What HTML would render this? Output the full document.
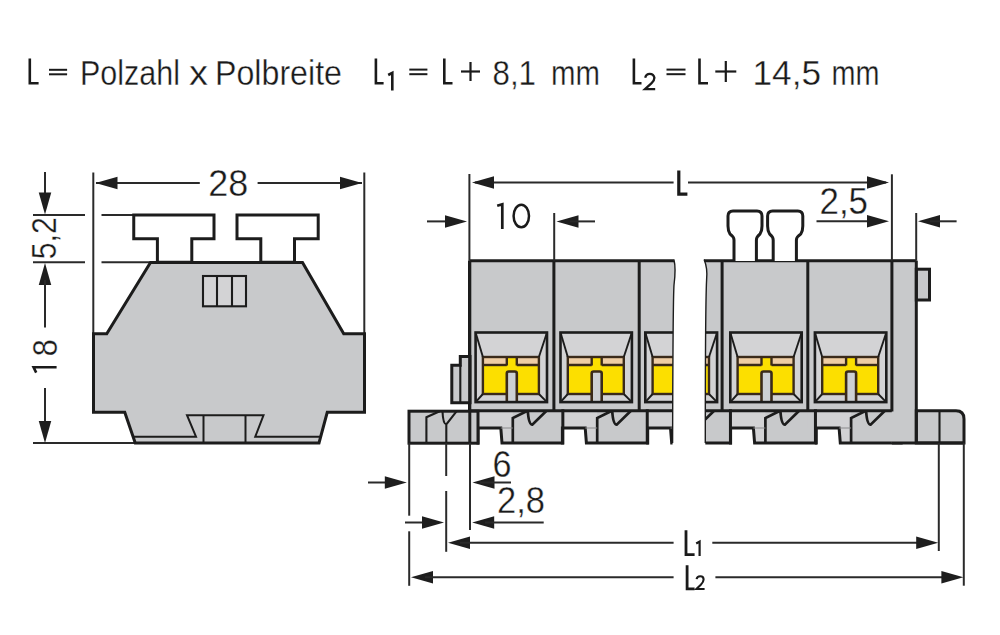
<!DOCTYPE html>
<html><head><meta charset="utf-8"><style>
html,body{margin:0;padding:0;background:#fff;}
svg{display:block;}
text{font-family:"Liberation Sans",sans-serif;}
</style></head><body>
<svg width="1000" height="635" viewBox="0 0 1000 635">
<rect width="1000" height="635" fill="#fff"/>

<path d="M29.8,58.5 V83.2 H38.6" fill="none" stroke="#1a1a1a" stroke-width="2.6"/>
<line x1="49" y1="69.8" x2="67.1" y2="69.8" stroke="#1a1a1a" stroke-width="2.0"/><line x1="49" y1="74.3" x2="67.1" y2="74.3" stroke="#1a1a1a" stroke-width="2.0"/>
<text x="80" y="85" font-size="35" fill="#1a1a1a" textLength="100" lengthAdjust="spacingAndGlyphs" stroke="#fff" stroke-width="0.35">Polzahl</text>
<text x="189" y="85" font-size="35" fill="#1a1a1a" textLength="19" lengthAdjust="spacingAndGlyphs" stroke="#fff" stroke-width="0.35">x</text>
<text x="215" y="85" font-size="35" fill="#1a1a1a" textLength="127" lengthAdjust="spacingAndGlyphs" stroke="#fff" stroke-width="0.35">Polbreite</text>
<path d="M375.9,58.5 V83.2 H383.6" fill="none" stroke="#1a1a1a" stroke-width="2.6"/>
<path d="M388.2,75 L392.3,72.8 V90.4" fill="none" stroke="#1a1a1a" stroke-width="2.6"/>
<line x1="409.3" y1="69.6" x2="427.4" y2="69.6" stroke="#1a1a1a" stroke-width="2.0"/><line x1="409.3" y1="74.2" x2="427.4" y2="74.2" stroke="#1a1a1a" stroke-width="2.0"/>
<path d="M444.3,58.5 V83.2 H452.5" fill="none" stroke="#1a1a1a" stroke-width="2.6"/>
<line x1="461" y1="71.5" x2="480" y2="71.5" stroke="#1a1a1a" stroke-width="2.2"/><line x1="470.5" y1="62" x2="470.5" y2="81" stroke="#1a1a1a" stroke-width="2.2"/>
<text x="492.5" y="85" font-size="35" fill="#1a1a1a" textLength="43.5" lengthAdjust="spacingAndGlyphs" stroke="#fff" stroke-width="0.35">8,1</text>
<text x="551" y="85" font-size="35" fill="#1a1a1a" textLength="49" lengthAdjust="spacingAndGlyphs" stroke="#fff" stroke-width="0.35">mm</text>
<path d="M633.9,58.5 V83.2 H641.5" fill="none" stroke="#1a1a1a" stroke-width="2.6"/>
<path d="M645.2,77.8 A4.7,4.9 0 0 1 654.4,77.8 Q654.4,80.8 651.6,83.2 L645,89.2 H655.2" fill="none" stroke="#1a1a1a" stroke-width="2.3"/>
<line x1="666.5" y1="69.6" x2="685.5" y2="69.6" stroke="#1a1a1a" stroke-width="2.0"/><line x1="666.5" y1="74.2" x2="685.5" y2="74.2" stroke="#1a1a1a" stroke-width="2.0"/>
<path d="M699.5,58.5 V83.2 H708" fill="none" stroke="#1a1a1a" stroke-width="2.6"/>
<line x1="715.3" y1="71.5" x2="736.3" y2="71.5" stroke="#1a1a1a" stroke-width="2.2"/><line x1="725.8" y1="61" x2="725.8" y2="82" stroke="#1a1a1a" stroke-width="2.2"/>
<text x="752.5" y="85" font-size="35" fill="#1a1a1a" textLength="68.5" lengthAdjust="spacingAndGlyphs" stroke="#fff" stroke-width="0.35">14,5</text>
<text x="831.5" y="85" font-size="35" fill="#1a1a1a" textLength="48" lengthAdjust="spacingAndGlyphs" stroke="#fff" stroke-width="0.35">mm</text>
<line x1="93.3" y1="172.5" x2="93.3" y2="334" stroke="#2a2a2a" stroke-width="2.0"/>
<line x1="364.3" y1="172.5" x2="364.3" y2="334" stroke="#2a2a2a" stroke-width="2.0"/>
<line x1="33" y1="215" x2="85" y2="215" stroke="#2a2a2a" stroke-width="2.0"/>
<line x1="101.5" y1="215" x2="134" y2="215" stroke="#2a2a2a" stroke-width="2.0"/>
<line x1="33" y1="262.2" x2="85" y2="262.2" stroke="#2a2a2a" stroke-width="2.0"/>
<line x1="101.5" y1="262.2" x2="151" y2="262.2" stroke="#2a2a2a" stroke-width="2.0"/>
<line x1="33" y1="443" x2="136" y2="443" stroke="#2a2a2a" stroke-width="2.0"/>
<line x1="96" y1="183.1" x2="199.8" y2="183.1" stroke="#2a2a2a" stroke-width="2.0"/>
<line x1="257.6" y1="183.1" x2="362" y2="183.1" stroke="#2a2a2a" stroke-width="2.0"/>
<polygon points="95.5,183.1 117.5,176.85 117.5,189.35" fill="#1e1e1e"/>
<polygon points="362,183.1 340,176.85 340,189.35" fill="#1e1e1e"/>
<text x="208.3" y="195.8" font-size="37" fill="#1a1a1a" textLength="40" lengthAdjust="spacingAndGlyphs" stroke="#fff" stroke-width="0.35">28</text>
<line x1="45" y1="172" x2="45" y2="205" stroke="#2a2a2a" stroke-width="2.0"/>
<polygon points="45,214.5 38.75,192.5 51.25,192.5" fill="#1e1e1e"/>
<polygon points="45,263 38.75,285 51.25,285" fill="#1e1e1e"/>
<line x1="45" y1="280" x2="45" y2="327.6" stroke="#2a2a2a" stroke-width="2.0"/>
<line x1="45" y1="388" x2="45" y2="430" stroke="#2a2a2a" stroke-width="2.0"/>
<polygon points="45,443 38.75,421 51.25,421" fill="#1e1e1e"/>
<text transform="translate(56.4,259.3) rotate(-90)" font-size="35.5" fill="#1a1a1a" textLength="42" lengthAdjust="spacingAndGlyphs" stroke="#fff" stroke-width="0.35">5,2</text>
<text transform="translate(56.8,356.2) rotate(-90)" font-size="35.5" fill="#1a1a1a" textLength="17" lengthAdjust="spacingAndGlyphs" stroke="#fff" stroke-width="0.35">8</text><path d="M36.2,372.6 L33.6,367.3 H56.6" fill="none" stroke="#1a1a1a" stroke-width="2.6"/>
<path d="M133.75,215 H214 V238.7 H191.8 V262.3 H157.4 V238.7 H133.75 Z" fill="#fff" stroke="#1c1c1c" stroke-width="3.0" stroke-linejoin="miter"/>
<path d="M237,215 H318.2 V238.7 H294.5 V262.3 H260.8 V238.7 H237 Z" fill="#fff" stroke="#1c1c1c" stroke-width="3.0"/>
<path d="M150.5,262.5 H302.5 L343.75,333.75 H364.5 V412.25 H327.25 L319,443 H135.25 L124.75,412.25 H93.5 V333.75 H106.75 Z" fill="#c8c9cb" stroke="#1c1c1c" stroke-width="3" stroke-linejoin="miter"/>
<rect x="203" y="276" width="43" height="30.3" fill="#d3d3d5" stroke="#1c1c1c" stroke-width="2.1"/>
<line x1="217" y1="276" x2="217" y2="306.3" stroke="#1c1c1c" stroke-width="2.1"/>
<line x1="232" y1="276" x2="232" y2="306.3" stroke="#1c1c1c" stroke-width="2.1"/>
<path d="M133.1,436.7 H196 L187,415.25 H263.5 L255.25,436.7 H321" fill="none" stroke="#1c1c1c" stroke-width="2"/>
<line x1="203.5" y1="415.25" x2="203.5" y2="443" stroke="#1c1c1c" stroke-width="2"/>
<line x1="245.5" y1="415.25" x2="245.5" y2="443" stroke="#1c1c1c" stroke-width="2"/>
<defs><clipPath id="cl"><path d="M0,0 H673.9 V260.7 C675.6,266 675.4,274 674,285 C673,300 672.8,360 672.6,445 V635 H0 Z"/></clipPath><clipPath id="cr"><path d="M1000,0 H704.1 V260.7 C706,264 707.6,270 706.6,280 C705.6,300 705.3,360 705.3,445 V635 H1000 Z"/></clipPath></defs>
<g clip-path="url(#cl)"><rect x="469.5" y="260.7" width="85.85" height="150.1" fill="#c8c9cb"/>
<rect x="475.6" y="332.5" width="71.4" height="69.6" fill="#d3d3d5"/>
<rect x="482.9" y="357" width="56" height="37" fill="#fcdf00"/>
<rect x="482.9" y="358" width="23.9" height="6.8" fill="#efcda4"/>
<rect x="516.8" y="358" width="22.1" height="6.8" fill="#efcda4"/>
<rect x="482.9" y="357" width="56" height="37" fill="none" stroke="#3a2a1a" stroke-width="2.4"/>
<line x1="482.9" y1="365" x2="506.8" y2="365" stroke="#3a2a1a" stroke-width="2.4"/>
<line x1="516.8" y1="365" x2="538.9" y2="365" stroke="#3a2a1a" stroke-width="2.4"/>
<line x1="506.8" y1="357.5" x2="506.8" y2="365.5" stroke="#3a2a1a" stroke-width="2.4"/>
<line x1="516.8" y1="357.5" x2="516.8" y2="365.5" stroke="#3a2a1a" stroke-width="2.4"/>
<line x1="475.6" y1="332.5" x2="482.9" y2="357" stroke="#1c1c1c" stroke-width="1.9"/>
<line x1="547" y1="332.5" x2="538.9" y2="357" stroke="#1c1c1c" stroke-width="1.9"/>
<line x1="475.6" y1="402.1" x2="482.9" y2="394" stroke="#1c1c1c" stroke-width="1.9"/>
<line x1="547" y1="402.1" x2="538.9" y2="394" stroke="#1c1c1c" stroke-width="1.9"/>
<path d="M506.8,403 V373.5 Q506.8,371.5 508.8,371.5 H514.8 Q516.8,371.5 516.8,373.5 V403" fill="#cdd0d4" stroke="#3a2a1a" stroke-width="2.6"/>
<rect x="475.6" y="332.5" width="71.4" height="69.6" fill="none" stroke="#1c1c1c" stroke-width="2.6"/>
<line x1="469.5" y1="260.7" x2="469.5" y2="410.8" stroke="#1c1c1c" stroke-width="3.0"/>
<rect x="553.9" y="260.7" width="85.85" height="150.1" fill="#c8c9cb"/>
<rect x="560.5" y="332.5" width="71.4" height="69.6" fill="#d3d3d5"/>
<rect x="567.8" y="357" width="56" height="37" fill="#fcdf00"/>
<rect x="567.8" y="358" width="23.9" height="6.8" fill="#efcda4"/>
<rect x="601.7" y="358" width="22.1" height="6.8" fill="#efcda4"/>
<rect x="567.8" y="357" width="56" height="37" fill="none" stroke="#3a2a1a" stroke-width="2.4"/>
<line x1="567.8" y1="365" x2="591.7" y2="365" stroke="#3a2a1a" stroke-width="2.4"/>
<line x1="601.7" y1="365" x2="623.8" y2="365" stroke="#3a2a1a" stroke-width="2.4"/>
<line x1="591.7" y1="357.5" x2="591.7" y2="365.5" stroke="#3a2a1a" stroke-width="2.4"/>
<line x1="601.7" y1="357.5" x2="601.7" y2="365.5" stroke="#3a2a1a" stroke-width="2.4"/>
<line x1="560.5" y1="332.5" x2="567.8" y2="357" stroke="#1c1c1c" stroke-width="1.9"/>
<line x1="631.9" y1="332.5" x2="623.8" y2="357" stroke="#1c1c1c" stroke-width="1.9"/>
<line x1="560.5" y1="402.1" x2="567.8" y2="394" stroke="#1c1c1c" stroke-width="1.9"/>
<line x1="631.9" y1="402.1" x2="623.8" y2="394" stroke="#1c1c1c" stroke-width="1.9"/>
<path d="M591.7,403 V373.5 Q591.7,371.5 593.7,371.5 H599.7 Q601.7,371.5 601.7,373.5 V403" fill="#cdd0d4" stroke="#3a2a1a" stroke-width="2.6"/>
<rect x="560.5" y="332.5" width="71.4" height="69.6" fill="none" stroke="#1c1c1c" stroke-width="2.6"/>
<line x1="553.9" y1="260.7" x2="553.9" y2="410.8" stroke="#1c1c1c" stroke-width="3.0"/>
<rect x="639.2" y="260.7" width="85.85" height="150.1" fill="#c8c9cb"/>
<rect x="645.3" y="332.5" width="71.4" height="69.6" fill="#d3d3d5"/>
<rect x="652.6" y="357" width="56" height="37" fill="#fcdf00"/>
<rect x="652.6" y="358" width="23.9" height="6.8" fill="#efcda4"/>
<rect x="686.5" y="358" width="22.1" height="6.8" fill="#efcda4"/>
<rect x="652.6" y="357" width="56" height="37" fill="none" stroke="#3a2a1a" stroke-width="2.4"/>
<line x1="652.6" y1="365" x2="676.5" y2="365" stroke="#3a2a1a" stroke-width="2.4"/>
<line x1="686.5" y1="365" x2="708.6" y2="365" stroke="#3a2a1a" stroke-width="2.4"/>
<line x1="676.5" y1="357.5" x2="676.5" y2="365.5" stroke="#3a2a1a" stroke-width="2.4"/>
<line x1="686.5" y1="357.5" x2="686.5" y2="365.5" stroke="#3a2a1a" stroke-width="2.4"/>
<line x1="645.3" y1="332.5" x2="652.6" y2="357" stroke="#1c1c1c" stroke-width="1.9"/>
<line x1="716.7" y1="332.5" x2="708.6" y2="357" stroke="#1c1c1c" stroke-width="1.9"/>
<line x1="645.3" y1="402.1" x2="652.6" y2="394" stroke="#1c1c1c" stroke-width="1.9"/>
<line x1="716.7" y1="402.1" x2="708.6" y2="394" stroke="#1c1c1c" stroke-width="1.9"/>
<path d="M676.5,403 V373.5 Q676.5,371.5 678.5,371.5 H684.5 Q686.5,371.5 686.5,373.5 V403" fill="#cdd0d4" stroke="#3a2a1a" stroke-width="2.6"/>
<rect x="645.3" y="332.5" width="71.4" height="69.6" fill="none" stroke="#1c1c1c" stroke-width="2.6"/>
<line x1="639.2" y1="260.7" x2="639.2" y2="410.8" stroke="#1c1c1c" stroke-width="3.0"/>
<rect x="469.5" y="410.8" width="86.85" height="17.2" fill="#c8c9cb"/>
<polygon points="478,410.8 512.8,410.8 512.8,443 502,443 500.8,428 478,428" fill="#d2d2d4"/>
<polygon points="512.8,428 562.85,428 562.85,443 512.8,443" fill="#c8c9cb"/>
<rect x="553.9" y="410.8" width="86.85" height="17.2" fill="#c8c9cb"/>
<polygon points="562.4,410.8 597.2,410.8 597.2,443 586.4,443 585.2,428 562.4,428" fill="#d2d2d4"/>
<polygon points="597.2,428 647.25,428 647.25,443 597.2,443" fill="#c8c9cb"/>
<rect x="639.2" y="410.8" width="86.85" height="17.2" fill="#c8c9cb"/>
<polygon points="647.7,410.8 682.5,410.8 682.5,443 671.7,443 670.5,428 647.7,428" fill="#d2d2d4"/>
<polygon points="682.5,428 732.55,428 732.55,443 682.5,443" fill="#c8c9cb"/>
<path d="M478,443 V428 H500.8 L502,443 H562.85 V410.8" fill="none" stroke="#1c1c1c" stroke-width="3.0" stroke-linecap="square"/>
<path d="M512.8,443 V418 L526.5,411.3 M527.8,411 C528.3,419 529.9,424.6 532.3,424.6 L546.3,411" fill="none" stroke="#1c1c1c" stroke-width="2.7"/>
<line x1="500.8" y1="428" x2="512.8" y2="428" stroke="#8a8a8c" stroke-width="1.0"/>
<path d="M562.4,443 V428 H585.2 L586.4,443 H647.25 V410.8" fill="none" stroke="#1c1c1c" stroke-width="3.0" stroke-linecap="square"/>
<path d="M597.2,443 V418 L610.9,411.3 M612.2,411 C612.7,419 614.3,424.6 616.7,424.6 L630.7,411" fill="none" stroke="#1c1c1c" stroke-width="2.7"/>
<line x1="585.2" y1="428" x2="597.2" y2="428" stroke="#8a8a8c" stroke-width="1.0"/>
<path d="M647.7,443 V428 H670.5 L671.7,443 H732.55 V410.8" fill="none" stroke="#1c1c1c" stroke-width="3.0" stroke-linecap="square"/>
<path d="M682.5,443 V418 L696.2,411.3 M697.5,411 C698,419 699.6,424.6 702,424.6 L716,411" fill="none" stroke="#1c1c1c" stroke-width="2.7"/>
<line x1="670.5" y1="428" x2="682.5" y2="428" stroke="#8a8a8c" stroke-width="1.0"/>
<line x1="469.5" y1="260.7" x2="734.05" y2="260.7" stroke="#1c1c1c" stroke-width="3.0"/>
<line x1="469.5" y1="410.8" x2="734.05" y2="410.8" stroke="#1c1c1c" stroke-width="3.0"/></g>
<rect x="409" y="411.2" width="69" height="32" fill="#c8c9cb" stroke="#1c1c1c" stroke-width="3.0"/>
<path d="M426.4,443 V417.2 L439.7,411.2 M442.5,411.2 Q443,424 446.3,424.3 L456.7,411.2 M446.3,424.3 V443" fill="none" stroke="#1c1c1c" stroke-width="2.1"/>
<path d="M451.8,402.8 V365.2 H460.3 V356.4 H470 V402.8 Z" fill="#c8c9cb" stroke="#1c1c1c" stroke-width="3.0"/>
<line x1="460.3" y1="365.2" x2="460.3" y2="402.8" stroke="#1c1c1c" stroke-width="2.1"/>
<line x1="469.8" y1="260.7" x2="469.8" y2="443" stroke="#1c1c1c" stroke-width="3.0"/>
<path d="M673.9,259.5 C675.6,266 675.4,274 674,285 C673,300 672.8,360 672.6,443" fill="none" stroke="#1c1c1c" stroke-width="1.4"/>
<g clip-path="url(#cr)"><rect x="637.1" y="260.7" width="85.85" height="150.1" fill="#c8c9cb"/>
<rect x="645.7" y="332.5" width="71.4" height="69.6" fill="#d3d3d5"/>
<rect x="653" y="357" width="56" height="37" fill="#fcdf00"/>
<rect x="653" y="358" width="23.9" height="6.8" fill="#efcda4"/>
<rect x="686.9" y="358" width="22.1" height="6.8" fill="#efcda4"/>
<rect x="653" y="357" width="56" height="37" fill="none" stroke="#3a2a1a" stroke-width="2.4"/>
<line x1="653" y1="365" x2="676.9" y2="365" stroke="#3a2a1a" stroke-width="2.4"/>
<line x1="686.9" y1="365" x2="709" y2="365" stroke="#3a2a1a" stroke-width="2.4"/>
<line x1="676.9" y1="357.5" x2="676.9" y2="365.5" stroke="#3a2a1a" stroke-width="2.4"/>
<line x1="686.9" y1="357.5" x2="686.9" y2="365.5" stroke="#3a2a1a" stroke-width="2.4"/>
<line x1="645.7" y1="332.5" x2="653" y2="357" stroke="#1c1c1c" stroke-width="1.9"/>
<line x1="717.1" y1="332.5" x2="709" y2="357" stroke="#1c1c1c" stroke-width="1.9"/>
<line x1="645.7" y1="402.1" x2="653" y2="394" stroke="#1c1c1c" stroke-width="1.9"/>
<line x1="717.1" y1="402.1" x2="709" y2="394" stroke="#1c1c1c" stroke-width="1.9"/>
<path d="M676.9,403 V373.5 Q676.9,371.5 678.9,371.5 H684.9 Q686.9,371.5 686.9,373.5 V403" fill="#cdd0d4" stroke="#3a2a1a" stroke-width="2.6"/>
<rect x="645.7" y="332.5" width="71.4" height="69.6" fill="none" stroke="#1c1c1c" stroke-width="2.6"/>
<line x1="637.1" y1="260.7" x2="637.1" y2="410.8" stroke="#1c1c1c" stroke-width="3.0"/>
<rect x="722.1" y="260.7" width="85.85" height="150.1" fill="#c8c9cb"/>
<rect x="730.3" y="332.5" width="71.4" height="69.6" fill="#d3d3d5"/>
<rect x="737.6" y="357" width="56" height="37" fill="#fcdf00"/>
<rect x="737.6" y="358" width="23.9" height="6.8" fill="#efcda4"/>
<rect x="771.5" y="358" width="22.1" height="6.8" fill="#efcda4"/>
<rect x="737.6" y="357" width="56" height="37" fill="none" stroke="#3a2a1a" stroke-width="2.4"/>
<line x1="737.6" y1="365" x2="761.5" y2="365" stroke="#3a2a1a" stroke-width="2.4"/>
<line x1="771.5" y1="365" x2="793.6" y2="365" stroke="#3a2a1a" stroke-width="2.4"/>
<line x1="761.5" y1="357.5" x2="761.5" y2="365.5" stroke="#3a2a1a" stroke-width="2.4"/>
<line x1="771.5" y1="357.5" x2="771.5" y2="365.5" stroke="#3a2a1a" stroke-width="2.4"/>
<line x1="730.3" y1="332.5" x2="737.6" y2="357" stroke="#1c1c1c" stroke-width="1.9"/>
<line x1="801.7" y1="332.5" x2="793.6" y2="357" stroke="#1c1c1c" stroke-width="1.9"/>
<line x1="730.3" y1="402.1" x2="737.6" y2="394" stroke="#1c1c1c" stroke-width="1.9"/>
<line x1="801.7" y1="402.1" x2="793.6" y2="394" stroke="#1c1c1c" stroke-width="1.9"/>
<path d="M761.5,403 V373.5 Q761.5,371.5 763.5,371.5 H769.5 Q771.5,371.5 771.5,373.5 V403" fill="#cdd0d4" stroke="#3a2a1a" stroke-width="2.6"/>
<rect x="730.3" y="332.5" width="71.4" height="69.6" fill="none" stroke="#1c1c1c" stroke-width="2.6"/>
<line x1="722.1" y1="260.7" x2="722.1" y2="410.8" stroke="#1c1c1c" stroke-width="3.0"/>
<rect x="807.8" y="260.7" width="85.85" height="150.1" fill="#c8c9cb"/>
<rect x="814.9" y="332.5" width="71.4" height="69.6" fill="#d3d3d5"/>
<rect x="822.2" y="357" width="56" height="37" fill="#fcdf00"/>
<rect x="822.2" y="358" width="23.9" height="6.8" fill="#efcda4"/>
<rect x="856.1" y="358" width="22.1" height="6.8" fill="#efcda4"/>
<rect x="822.2" y="357" width="56" height="37" fill="none" stroke="#3a2a1a" stroke-width="2.4"/>
<line x1="822.2" y1="365" x2="846.1" y2="365" stroke="#3a2a1a" stroke-width="2.4"/>
<line x1="856.1" y1="365" x2="878.2" y2="365" stroke="#3a2a1a" stroke-width="2.4"/>
<line x1="846.1" y1="357.5" x2="846.1" y2="365.5" stroke="#3a2a1a" stroke-width="2.4"/>
<line x1="856.1" y1="357.5" x2="856.1" y2="365.5" stroke="#3a2a1a" stroke-width="2.4"/>
<line x1="814.9" y1="332.5" x2="822.2" y2="357" stroke="#1c1c1c" stroke-width="1.9"/>
<line x1="886.3" y1="332.5" x2="878.2" y2="357" stroke="#1c1c1c" stroke-width="1.9"/>
<line x1="814.9" y1="402.1" x2="822.2" y2="394" stroke="#1c1c1c" stroke-width="1.9"/>
<line x1="886.3" y1="402.1" x2="878.2" y2="394" stroke="#1c1c1c" stroke-width="1.9"/>
<path d="M846.1,403 V373.5 Q846.1,371.5 848.1,371.5 H854.1 Q856.1,371.5 856.1,373.5 V403" fill="#cdd0d4" stroke="#3a2a1a" stroke-width="2.6"/>
<rect x="814.9" y="332.5" width="71.4" height="69.6" fill="none" stroke="#1c1c1c" stroke-width="2.6"/>
<line x1="807.8" y1="260.7" x2="807.8" y2="410.8" stroke="#1c1c1c" stroke-width="3.0"/>
<rect x="637.1" y="410.8" width="86.85" height="17.2" fill="#c8c9cb"/>
<polygon points="645.6,410.8 680.4,410.8 680.4,443 669.6,443 668.4,428 645.6,428" fill="#d2d2d4"/>
<polygon points="680.4,428 730.45,428 730.45,443 680.4,443" fill="#c8c9cb"/>
<rect x="722.1" y="410.8" width="86.85" height="17.2" fill="#c8c9cb"/>
<polygon points="730.6,410.8 765.4,410.8 765.4,443 754.6,443 753.4,428 730.6,428" fill="#d2d2d4"/>
<polygon points="765.4,428 815.45,428 815.45,443 765.4,443" fill="#c8c9cb"/>
<rect x="807.8" y="410.8" width="86.85" height="17.2" fill="#c8c9cb"/>
<polygon points="816.3,410.8 851.1,410.8 851.1,443 840.3,443 839.1,428 816.3,428" fill="#d2d2d4"/>
<polygon points="851.1,428 901.15,428 901.15,443 851.1,443" fill="#c8c9cb"/>
<path d="M645.6,443 V428 H668.4 L669.6,443 H730.45 V410.8" fill="none" stroke="#1c1c1c" stroke-width="3.0" stroke-linecap="square"/>
<path d="M680.4,443 V418 L694.1,411.3 M695.4,411 C695.9,419 697.5,424.6 699.9,424.6 L713.9,411" fill="none" stroke="#1c1c1c" stroke-width="2.7"/>
<line x1="668.4" y1="428" x2="680.4" y2="428" stroke="#8a8a8c" stroke-width="1.0"/>
<path d="M730.6,443 V428 H753.4 L754.6,443 H815.45 V410.8" fill="none" stroke="#1c1c1c" stroke-width="3.0" stroke-linecap="square"/>
<path d="M765.4,443 V418 L779.1,411.3 M780.4,411 C780.9,419 782.5,424.6 784.9,424.6 L798.9,411" fill="none" stroke="#1c1c1c" stroke-width="2.7"/>
<line x1="753.4" y1="428" x2="765.4" y2="428" stroke="#8a8a8c" stroke-width="1.0"/>
<path d="M816.3,443 V428 H839.1 L840.3,443 H901.15 V410.8" fill="none" stroke="#1c1c1c" stroke-width="3.0" stroke-linecap="square"/>
<path d="M851.1,443 V418 L864.8,411.3 M866.1,411 C866.6,419 868.2,424.6 870.6,424.6 L884.6,411" fill="none" stroke="#1c1c1c" stroke-width="2.7"/>
<line x1="839.1" y1="428" x2="851.1" y2="428" stroke="#8a8a8c" stroke-width="1.0"/>
<line x1="690" y1="260.7" x2="891.9" y2="260.7" stroke="#1c1c1c" stroke-width="3.0"/>
<line x1="690" y1="410.8" x2="891.9" y2="410.8" stroke="#1c1c1c" stroke-width="3.0"/></g>
<path d="M891.9,260.7 H916.3 V443 H891.9 Z" fill="#c8c9cb"/>
<rect x="916.3" y="269.2" width="13.2" height="30.8" fill="#c8c9cb" stroke="#1c1c1c" stroke-width="3.0"/>
<path d="M916.3,410.8 H956 Q964,410.8 964,419 V443 H916.3 Z" fill="#c8c9cb" stroke="#1c1c1c" stroke-width="3.0"/>
<line x1="939.5" y1="410.8" x2="939.5" y2="443" stroke="#1c1c1c" stroke-width="2.1"/>
<line x1="891.9" y1="260.7" x2="916.3" y2="260.7" stroke="#1c1c1c" stroke-width="3.0"/>
<line x1="916.3" y1="260.7" x2="916.3" y2="443" stroke="#1c1c1c" stroke-width="3.0"/>
<line x1="891.9" y1="174.3" x2="891.9" y2="260.7" stroke="#2a2a2a" stroke-width="2.0"/>
<line x1="891.9" y1="260.7" x2="891.9" y2="411.5" stroke="#1c1c1c" stroke-width="3.0"/>
<line x1="891.9" y1="443" x2="964" y2="443" stroke="#1c1c1c" stroke-width="3.0"/>
<path d="M704.1,259.5 C706,264 707.6,270 706.6,280 C705.6,300 705.3,360 705.3,443" fill="none" stroke="#1c1c1c" stroke-width="1.4"/>
<path d="M734,261 V240 Q734,236.8 730,234 Q728,231 728,226 V216 Q728,210.9 733,210.9 H757 Q762,210.9 762,216 V226 Q762,231 760,234 Q756.4,236.8 756.4,240 V261" fill="#fff" stroke="#1c1c1c" stroke-width="3.0"/>
<path d="M773.2,261 V240 Q773.2,236.8 769.6,234 Q767.6,231 767.6,226 V216 Q767.6,210.9 772.6,210.9 H797.8 Q802.8,210.9 802.8,216 V226 Q802.8,231 800.8,234 Q796.4,236.8 796.4,240 V261" fill="#fff" stroke="#1c1c1c" stroke-width="3.0"/>
<line x1="469.4" y1="174" x2="469.4" y2="260.7" stroke="#2a2a2a" stroke-width="2.0"/>
<line x1="554.2" y1="213" x2="554.2" y2="260.7" stroke="#2a2a2a" stroke-width="2.0"/>
<line x1="916.2" y1="213" x2="916.2" y2="260.7" stroke="#2a2a2a" stroke-width="2.0"/>
<line x1="475" y1="182.6" x2="673.6" y2="182.6" stroke="#2a2a2a" stroke-width="2.0"/>
<line x1="688" y1="182.6" x2="886" y2="182.6" stroke="#2a2a2a" stroke-width="2.0"/>
<polygon points="472,182.6 494,176.35 494,188.85" fill="#1e1e1e"/>
<polygon points="889,182.6 867,176.35 867,188.85" fill="#1e1e1e"/>
<path d="M678.8,170.4 V194.2 H687.4" fill="none" stroke="#1a1a1a" stroke-width="3.2"/>
<line x1="427" y1="221.4" x2="450" y2="221.4" stroke="#2a2a2a" stroke-width="2.0"/>
<polygon points="467,221.4 445,215.15 445,227.65" fill="#1e1e1e"/>
<polygon points="556.5,221.4 578.5,215.15 578.5,227.65" fill="#1e1e1e"/>
<line x1="570" y1="221.4" x2="595" y2="221.4" stroke="#2a2a2a" stroke-width="2.0"/>
<path d="M497.2,205.8 L502.3,204.3 V229" fill="none" stroke="#1a1a1a" stroke-width="2.7"/>
<ellipse cx="521.3" cy="216.05" rx="7.7" ry="11.3" fill="none" stroke="#1a1a1a" stroke-width="2.5"/>
<line x1="816.5" y1="221.3" x2="870" y2="221.3" stroke="#2a2a2a" stroke-width="2.0"/>
<polygon points="889,221.3 867,215.05 867,227.55" fill="#1e1e1e"/>
<polygon points="918,221.3 940,215.05 940,227.55" fill="#1e1e1e"/>
<line x1="930" y1="221.3" x2="956.6" y2="221.3" stroke="#2a2a2a" stroke-width="2.0"/>
<text x="819.5" y="213.6" font-size="37" fill="#1a1a1a" textLength="48.5" lengthAdjust="spacingAndGlyphs" stroke="#fff" stroke-width="0.35">2,5</text>
<line x1="409.2" y1="443" x2="409.2" y2="515.7" stroke="#2a2a2a" stroke-width="2.0"/>
<line x1="409.2" y1="531.3" x2="409.2" y2="585.8" stroke="#2a2a2a" stroke-width="2.0"/>
<line x1="446.2" y1="443" x2="446.2" y2="476" stroke="#2a2a2a" stroke-width="2.0"/>
<line x1="446.2" y1="491" x2="446.2" y2="551.8" stroke="#2a2a2a" stroke-width="2.0"/>
<line x1="470" y1="443" x2="470" y2="530" stroke="#2a2a2a" stroke-width="2.0"/>
<line x1="938.8" y1="443" x2="938.8" y2="551" stroke="#2a2a2a" stroke-width="2.0"/>
<line x1="963.8" y1="443" x2="963.8" y2="585.7" stroke="#2a2a2a" stroke-width="2.0"/>
<line x1="368" y1="482.5" x2="395" y2="482.5" stroke="#2a2a2a" stroke-width="2.0"/>
<polygon points="406.8,482.5 384.8,476.25 384.8,488.75" fill="#1e1e1e"/>
<polygon points="472.5,482.5 494.5,476.25 494.5,488.75" fill="#1e1e1e"/>
<line x1="480" y1="482.5" x2="511" y2="482.5" stroke="#2a2a2a" stroke-width="2.0"/>
<text x="492.5" y="476.6" font-size="36" fill="#1a1a1a" textLength="19" lengthAdjust="spacingAndGlyphs" stroke="#fff" stroke-width="0.35">6</text>
<line x1="405" y1="522.5" x2="430" y2="522.5" stroke="#2a2a2a" stroke-width="2.0"/>
<polygon points="444,522.5 422,516.25 422,528.75" fill="#1e1e1e"/>
<polygon points="472.2,522.5 494.2,516.25 494.2,528.75" fill="#1e1e1e"/>
<line x1="485" y1="522.5" x2="543.7" y2="522.5" stroke="#2a2a2a" stroke-width="2.0"/>
<text x="497" y="512.5" font-size="36" fill="#1a1a1a" textLength="48" lengthAdjust="spacingAndGlyphs" stroke="#fff" stroke-width="0.35">2,8</text>
<polygon points="448,542.8 470,536.55 470,549.05" fill="#1e1e1e"/>
<line x1="460" y1="542.8" x2="673.6" y2="542.8" stroke="#2a2a2a" stroke-width="2.0"/>
<line x1="712.3" y1="542.8" x2="925" y2="542.8" stroke="#2a2a2a" stroke-width="2.0"/>
<polygon points="938.2,542.8 916.2,536.55 916.2,549.05" fill="#1e1e1e"/>
<path d="M686,530.2 V554.6 H694.6" fill="none" stroke="#1a1a1a" stroke-width="2.8"/>
<path d="M696.2,543.5 L699.6,541.6 V556" fill="none" stroke="#1a1a1a" stroke-width="2.2"/>
<polygon points="411,577.2 433,570.95 433,583.45" fill="#1e1e1e"/>
<line x1="425" y1="577.2" x2="673.6" y2="577.2" stroke="#2a2a2a" stroke-width="2.0"/>
<line x1="715.4" y1="577.2" x2="950" y2="577.2" stroke="#2a2a2a" stroke-width="2.0"/>
<polygon points="963.4,577.2 941.4,570.95 941.4,583.45" fill="#1e1e1e"/>
<path d="M687.1,565.3 V588.8 H694.6" fill="none" stroke="#1a1a1a" stroke-width="2.8"/>
<path d="M696.6,579.2 Q697,576.2 700.3,576.2 Q703.6,576.2 703.6,579.6 Q703.6,582 700.8,584.8 L696.4,589 H704.6" fill="none" stroke="#1a1a1a" stroke-width="2.1"/>
</svg>
</body></html>
